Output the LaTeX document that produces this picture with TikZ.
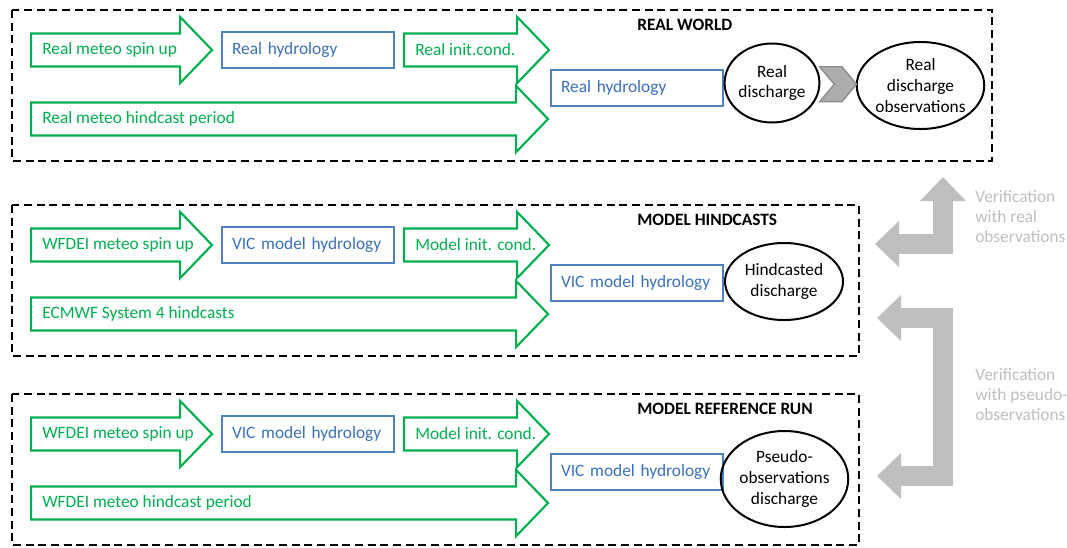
\documentclass[tikz,border=0pt]{standalone}
\usepackage{fontspec}
\setmainfont{Carlito}
\usetikzlibrary{arrows.meta,positioning,shapes.geometric,shapes.arrows,shapes.symbols,calc}
\definecolor{meteo}{RGB}{0,176,80}
\definecolor{hydro}{RGB}{79,129,189}
\definecolor{hydrotext}{RGB}{58,112,186}
\definecolor{verigray}{RGB}{191,191,191}
\definecolor{chevgray}{RGB}{140,140,140}
\tikzset{
  vtip/.tip={Triangle[width=34.5pt,length=18pt,line width=0pt]},
  panel/.style={draw=black,line width=1.5pt,dash pattern=on 6pt off 3.5pt},
  title/.style={font=\fontsize{13}{15}\selectfont\bfseries,anchor=west,inner sep=0pt},
  garrow/.style={shape=single arrow,draw=meteo,fill=white,line width=1.6pt,
    anchor=tail,inner xsep=0pt,inner ysep=11.6pt,single arrow head extend=12.4pt,
    single arrow tip angle=92},
  gtext/.style={text=meteo,anchor=west,inner sep=0pt},
  hbox/.style={draw=hydro,line width=1.5pt,text=hydrotext,anchor=west,align=left,
    minimum height=27pt,inner xsep=7.5pt,text width=114pt},
  disc/.style={ellipse,draw=black,line width=1.5pt,align=center,inner sep=0pt,
    font=\fontsize{13}{15.5}\selectfont},
  chev/.style={signal,signal to=east,signal from=west,signal pointer angle=100,
    fill=verigray!90!black,draw=chevgray,line width=1pt,minimum width=27.75pt,
    minimum height=26.25pt,inner sep=0pt},
  verif/.style={draw=verigray,line width=15pt,vtip-vtip},
  note/.style={text=verigray,anchor=west,align=left,inner sep=0pt,
    font=\fontsize{13}{15}\selectfont},
}
\begin{document}
\begin{tikzpicture}[x=0.75pt,y=-0.75pt,font=\fontsize{13}{15}\selectfont]
  \useasboundingbox (0,0) rectangle (1067,547);
  % the three runs
  \foreach \yy/\rx/\ttl/\spin/\hyd/\ini/\hind [count=\i] in {
    10/992/REAL WORLD/Real meteo spin up/Real hydrology/Real init.cond./Real meteo hindcast period,
    205/859/MODEL HINDCASTS/WFDEI meteo spin up/VIC model hydrology/Model init. cond./ECMWF System 4 hindcasts,
    394/859/MODEL REFERENCE RUN/WFDEI meteo spin up/VIC model hydrology/Model init. cond./WFDEI meteo hindcast period}
  {
    \draw[panel] (12,\yy) rectangle (\rx,\yy+151);
    \node[title] (t\i) at (637,\yy+15) {\ttl};
    \node[garrow,minimum height=135.75pt] (s\i) at (30,\yy+40) {};
    \node[gtext] (st\i) at ([xshift=9pt]s\i.tail) {\spin};
    \node[hbox] (h\i) at (221,\yy+40) {\hyd};
    \node[garrow,minimum height=108.75pt] (c\i) at (403,\yy+40) {};
    \node[gtext] (ct\i) at ([xshift=9pt]c\i.tail) {\ini};
    \node[garrow,minimum height=387.75pt] (f\i) at (30,\yy+109) {};
    \node[gtext] (ft\i) at ([xshift=9pt]f\i.tail) {\hind};
    \node[hbox] (m\i) at (550,\yy+78) {\hyd};
  }
  % discharges
  \node[disc,minimum width=69.75pt,minimum height=59.25pt] (d1) at (772,83) {Real\\discharge};
  \node[disc,minimum width=92.25pt,minimum height=65.25pt] (o1) at (920.5,85.5) {Real\\discharge\\observations};
  \node[chev] (k1) at ($(d1.east)!0.5!(o1.west)$) {};
  \node[disc,minimum width=88.5pt,minimum height=57.75pt] (d2) at (784,281.5) {Hindcasted\\discharge};
  \node[disc,minimum width=90.75pt,minimum height=72pt] (d3) at (784.5,479) {Pseudo-\\observations\\discharge};
  % verification
  \coordinate (va) at (875,244);
  \coordinate (vb) at (943,177);
  \draw[verif] (va) -- (vb |- va) -- (vb);
  \coordinate (vc) at (877,318);
  \coordinate (vd) at (877,476);
  \draw[verif] (vc) -- (943,318) -- (943,476) -- (vd);
  \node[note] (n1) at (975,217) {Verification\\with real\\observations};
  \node[note] (n2) at (975,395) {Verification\\with pseudo-\\observations};
\end{tikzpicture}
\end{document}
